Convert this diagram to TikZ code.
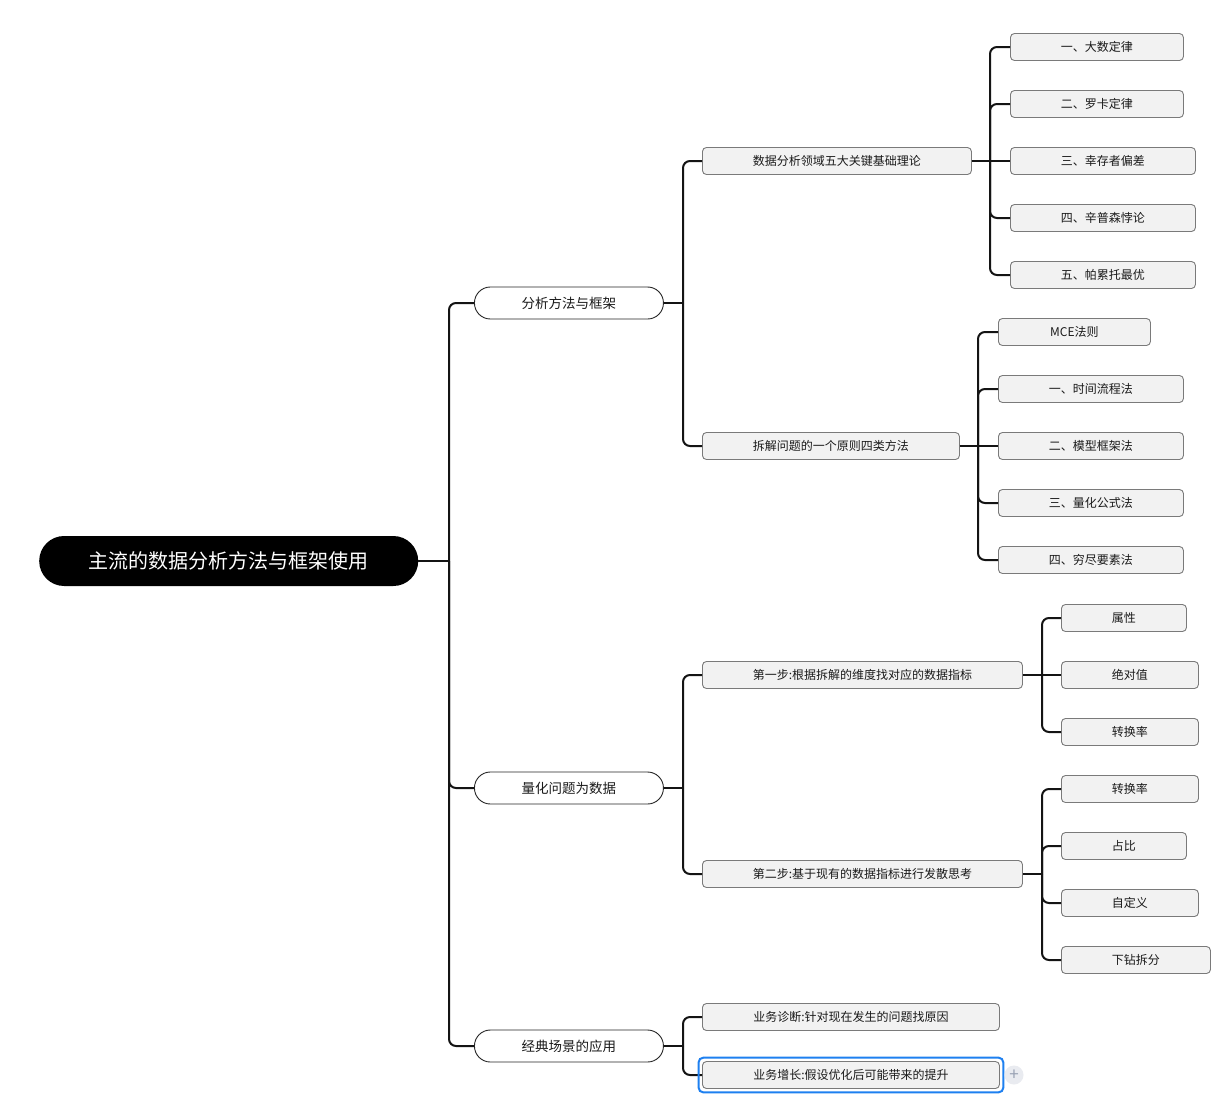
\documentclass[tikz,border=0pt]{standalone}
\usepackage{fontspec}
\setmainfont{Noto Sans CJK SC}
\usetikzlibrary{calc}
\definecolor{boxfill}{HTML}{F2F2F2}
\definecolor{boxline}{HTML}{7A7A7A}
\definecolor{selblue}{HTML}{1E80F0}
\definecolor{plusbg}{HTML}{E9EBF0}
\definecolor{plusfg}{HTML}{98A1B3}
\definecolor{linecol}{HTML}{141414}
\definecolor{txt}{HTML}{1A1A1A}
\begin{document}
\begin{tikzpicture}[x=1pt,y=-1pt,
  rootnode/.style={rounded corners=24.9pt, fill=black, text=white, minimum height=50pt, font=\fontsize{20}{24}\selectfont, inner sep=0pt, anchor=west},
  pill/.style={draw=black!85, line width=0.9pt, fill=white, rounded corners=15.9pt, minimum height=32pt, minimum width=189pt, font=\fontsize{13.5}{16}\selectfont, text=txt, inner sep=0pt, anchor=west},
  leaf/.style={draw=boxline, line width=0.9pt, fill=boxfill, rounded corners=4pt, minimum height=27pt, font=\fontsize{12}{14}\selectfont, text=txt, inner sep=0pt, anchor=west},
  conn/.style={draw=linecol, line width=2pt, rounded corners=7pt},
  stub/.style={draw=linecol, line width=2pt},
  thickstub/.style={draw=linecol, line width=2.6pt},
  selbox/.style={draw=selblue, line width=2pt, rounded corners=5pt},
  plusbtn/.style={circle, fill=plusbg, minimum size=19pt, inner sep=0pt, text=plusfg, font=\fontsize{17}{17}\selectfont}
]
\useasboundingbox[fill=white] (0,0) rectangle (1226,1106);

% vertical branch positions
\coordinate (v0) at (449,0);
\coordinate (v1) at (683,0);
\coordinate (va1) at (990,0);
\coordinate (va2) at (978,0);
\coordinate (vb) at (1042,0);

% root and level 1
\node[rootnode, minimum width=379pt] (root) at (39,561) {主流的数据分析方法与框架使用};
\node[pill] (a) at (474,303) {分析方法与框架};
\node[pill] (b) at (474,788) {量化问题为数据};
\node[pill] (c) at (474,1046) {经典场景的应用};

% level 2
\node[leaf, minimum width=269pt] (a1) at (702,161) {数据分析领域五大关键基础理论};
\node[leaf, minimum width=257pt] (a2) at (702,446) {拆解问题的一个原则四类方法};
\node[leaf, minimum width=320pt] (b1) at (702,675) {第一步:根据拆解的维度找对应的数据指标};
\node[leaf, minimum width=320pt] (b2) at (702,874) {第二步:基于现有的数据指标进行发散思考};
\node[leaf, minimum width=297pt] (c1) at (702,1017) {业务诊断:针对现在发生的问题找原因};
\node[leaf, minimum width=297pt] (c2) at (702,1075) {业务增长:假设优化后可能带来的提升};

% level 3 under a1
\node[leaf, minimum width=173pt] (a11) at (1010,47) {一、大数定律};
\node[leaf, minimum width=173pt] (a12) at (1010,104) {二、罗卡定律};
\node[leaf, minimum width=185pt] (a13) at (1010,161) {三、幸存者偏差};
\node[leaf, minimum width=185pt] (a14) at (1010,218) {四、辛普森悖论};
\node[leaf, minimum width=185pt] (a15) at (1010,275) {五、帕累托最优};

% level 3 under a2
\node[leaf, minimum width=152pt] (a21) at (998,332) {MCE法则};
\node[leaf, minimum width=185pt] (a22) at (998,389) {一、时间流程法};
\node[leaf, minimum width=185pt] (a23) at (998,446) {二、模型框架法};
\node[leaf, minimum width=185pt] (a24) at (998,503) {三、量化公式法};
\node[leaf, minimum width=185pt] (a25) at (998,560) {四、穷尽要素法};

% level 3 under b1
\node[leaf, minimum width=125pt] (b11) at (1061,618) {属性};
\node[leaf, minimum width=137pt] (b12) at (1061,675) {绝对值};
\node[leaf, minimum width=137pt] (b13) at (1061,732) {转换率};

% level 3 under b2
\node[leaf, minimum width=137pt] (b21) at (1061,789) {转换率};
\node[leaf, minimum width=125pt] (b22) at (1061,846) {占比};
\node[leaf, minimum width=137pt] (b23) at (1061,903) {自定义};
\node[leaf, minimum width=149pt] (b24) at (1061,960) {下钻拆分};

% connectors root -> level 1
\draw[stub] (root.east) -- (root.east -| v0);
\foreach \n in {a,b,c}
  \draw[conn] (root.east -| v0) |- (\n.west);

% level 1 -> level 2
\draw[stub] (a.east) -- (a.east -| v1);
\foreach \n in {a1,a2}
  \draw[conn] (a.east -| v1) |- (\n.west);
\draw[stub] (b.east) -- (b.east -| v1);
\foreach \n in {b1,b2}
  \draw[conn] (b.east -| v1) |- (\n.west);
\draw[stub] (c.east) -- (c.east -| v1);
\foreach \n in {c1,c2}
  \draw[conn] (c.east -| v1) |- (\n.west);

% level 2 -> level 3
\draw[thickstub] (a1.east) -- (a1.east -| va1);
\foreach \n in {a11,a12,a14,a15}
  \draw[conn] (a1.east -| va1) |- (\n.west);
\draw[stub] (a1.east) -- (a13.west);

\draw[thickstub] (a2.east) -- (a2.east -| va2);
\foreach \n in {a21,a22,a24,a25}
  \draw[conn] (a2.east -| va2) |- (\n.west);
\draw[stub] (a2.east) -- (a23.west);

\draw[thickstub] (b1.east) -- (b1.east -| vb);
\foreach \n in {b11,b13}
  \draw[conn] (b1.east -| vb) |- (\n.west);
\draw[stub] (b1.east) -- (b12.west);

\draw[stub] (b2.east) -- (b2.east -| vb);
\foreach \n in {b21,b22,b23,b24}
  \draw[conn] (b2.east -| vb) |- (\n.west);

% selection frame and add button
\draw[selbox] ([xshift=-3.5pt,yshift=3.5pt]c2.north west) rectangle ([xshift=3.5pt,yshift=-3.5pt]c2.south east);
\node[plusbtn] (plus) at (1014,1075) {+};
\end{tikzpicture}
\end{document}
